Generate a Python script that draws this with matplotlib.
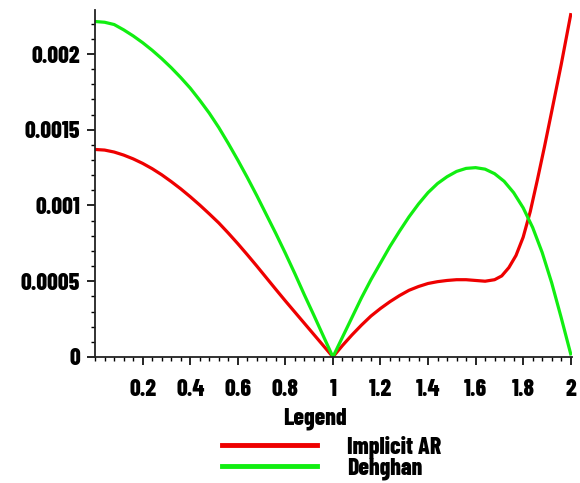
import numpy as np
import matplotlib
matplotlib.use('Agg')
import matplotlib.pyplot as plt
from matplotlib.ticker import MultipleLocator
from matplotlib.lines import Line2D

# 字体：窄体粗体
plt.rcParams['font.family'] = ['Barlow Condensed', 'PT Sans Narrow', 'DejaVu Sans']
plt.rcParams['font.weight'] = 800

# 数据（从图上读取，单位 1e-3）
x_dehghan = [0, 0.04, 0.08, 0.12, 0.16, 0.2, 0.24, 0.28, 0.32, 0.36, 0.40, 0.44, 0.48, 0.52,
             0.56, 0.60, 0.64, 0.68, 0.72, 0.76, 0.80, 0.84, 0.88, 0.92, 0.96, 1.0,
             1.04, 1.08, 1.12, 1.16, 1.20, 1.24, 1.28, 1.32, 1.36, 1.40, 1.44, 1.48, 1.52,
             1.56, 1.60, 1.64, 1.68, 1.72, 1.76, 1.80, 1.84, 1.88, 1.92, 1.96, 2.0]
y_dehghan = [2.215, 2.21, 2.195, 2.16, 2.12, 2.075, 2.025, 1.97, 1.91, 1.845, 1.775, 1.695, 1.61, 1.515,
             1.41, 1.30, 1.185, 1.065, 0.94, 0.815, 0.685, 0.55, 0.41, 0.275, 0.137, 0.0,
             0.13, 0.26, 0.39, 0.51, 0.62, 0.73, 0.83, 0.925, 1.01, 1.085, 1.145, 1.19, 1.225,
             1.245, 1.25, 1.24, 1.21, 1.16, 1.085, 0.985, 0.855, 0.69, 0.49, 0.26, 0.02]

x_implicit = [0, 0.04, 0.08, 0.12, 0.16, 0.2, 0.24, 0.28, 0.32, 0.36, 0.40, 0.44, 0.48, 0.52,
              0.56, 0.60, 0.64, 0.68, 0.72, 0.76, 0.80, 0.84, 0.88, 0.92, 0.96, 1.0,
              1.04, 1.08, 1.12, 1.16, 1.20, 1.24, 1.28, 1.32, 1.36, 1.40, 1.44, 1.48, 1.52,
              1.56, 1.60, 1.64, 1.68, 1.71, 1.74, 1.77, 1.80, 1.83, 1.86, 1.89, 1.92, 1.96, 2.0]
y_implicit = [1.37, 1.366, 1.353, 1.333, 1.308, 1.278, 1.243, 1.203, 1.158, 1.11, 1.058, 1.003, 0.945, 0.885,
              0.818, 0.748, 0.675, 0.60, 0.523, 0.446, 0.37, 0.296, 0.222, 0.148, 0.074, 0.0,
              0.075, 0.145, 0.21, 0.27, 0.32, 0.365, 0.405, 0.44, 0.465, 0.485, 0.497, 0.505, 0.51,
              0.51, 0.505, 0.50, 0.51, 0.535, 0.59, 0.67, 0.79, 0.96, 1.17, 1.39, 1.62, 1.93, 2.26]

y_dehghan = np.array(y_dehghan) * 1e-3
y_implicit = np.array(y_implicit) * 1e-3

yticks = [0, 0.0005, 0.001, 0.0015, 0.002]
ytick_labels = ['0', '0.0005', '0.001', '0.0015', '0.002']
xticks = [0.2, 0.4, 0.6, 0.8, 1, 1.2, 1.4, 1.6, 1.8, 2]
xtick_labels = ['0.2', '0.4', '0.6', '0.8', '1', '1.2', '1.4', '1.6', '1.8', '2']
labels = ['Implicit AR', 'Dehghan']

red = '#ee0000'
green = '#11ee11'

fig = plt.figure(figsize=(5.8, 4.83), dpi=100)
ax = fig.add_axes([0.164, 0.261, 0.822, 0.718])

ax.plot(x_implicit, y_implicit, color=red, linewidth=2.3, solid_joinstyle='round')
ax.plot(x_dehghan, y_dehghan, color=green, linewidth=2.3, solid_joinstyle='round')

ax.set_xlim(0, 2.005)
ax.set_ylim(0, 0.00229)

ax.spines['top'].set_visible(False)
ax.spines['right'].set_visible(False)
for s in ['left', 'bottom']:
    ax.spines[s].set_linewidth(1.3)
    ax.spines[s].set_color('#222222')

ax.set_xticks(xticks)
ax.set_xticklabels(xtick_labels, fontsize=17, fontweight=800)
ax.set_yticks(yticks)
ax.set_yticklabels(ytick_labels, fontsize=17, fontweight=800)
ax.xaxis.set_minor_locator(MultipleLocator(0.04))
ax.yaxis.set_minor_locator(MultipleLocator(0.0001))
ax.tick_params(which='major', direction='out', length=6, width=1.2, pad=5)
ax.tick_params(which='minor', direction='out', length=3, width=1.0)
ax.tick_params(axis='x', which='major', pad=10)
for t in ax.get_yticklabels():
    if t.get_text() == '0':
        t.set_y(-0.00006)

# 图例
fig.text(0.543, 0.133, 'Legend', fontsize=17, fontweight=800, ha='center', va='center')
handles = [Line2D([], [], color=red, linewidth=3.5),
           Line2D([], [], color=green, linewidth=3.5)]
fig.legend(handles, labels, loc='upper left',
           bbox_to_anchor=(0.383, 0.098), frameon=False, handlelength=4.0,
           handletextpad=1.3, labelspacing=-0.05, prop={'size': 17, 'weight': 800},
           borderaxespad=0, borderpad=0)

fig.savefig('out.png', dpi=100)
